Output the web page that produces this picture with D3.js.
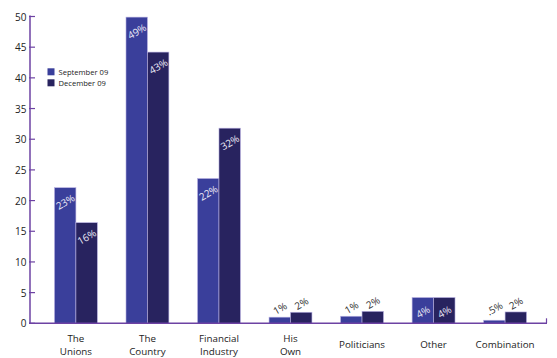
<!DOCTYPE html>
<html><head><meta charset="utf-8">
<script src="https://cdn.jsdelivr.net/npm/d3@7/dist/d3.min.js"></script>
<style>body{margin:0;background:#fff;}svg{display:block;}</style>
</head><body>
<script>
const categories = [["The","Unions"],["The","Country"],["Financial","Industry"],["His","Own"],["Politicians"],["Other"],["Combination"]];
const seriesNames = ["September 09","December 09"];
const sepValues = [22.1, 49.9, 23.6, 1.0, 1.15, 4.2, 0.5];
const decValues = [16.4, 44.2, 31.8, 1.8, 1.95, 4.2, 1.85];
const sepLabels = ["23%","49%","22%","1%","1%","4%",".5%"];
const decLabels = ["16%","43%","32%","2%","2%","4%","2%"];
const yTicks = [0,5,10,15,20,25,30,35,40,45,50];

const W=557,H=358;
const colors=["#3a3f9b","#28235f"];
const axisColor="#6d42a3";
const font="'Open Sans', sans-serif";
const svg=d3.select("body").append("svg").attr("width",W).attr("height",H);

const y=d3.scaleLinear().domain([0,50]).range([323.3,16.5]);
const x=d3.scaleBand().domain(d3.range(categories.length)).range([33,548]).paddingInner(0.4).paddingOuter(0.3);
const xs=d3.scaleBand().domain([0,1]).range([0,x.bandwidth()]);

// bars
const data=categories.map((c,i)=>({i,vals:[sepValues[i],decValues[i]],labs:[sepLabels[i],decLabels[i]]}));
const g=svg.append("g");
data.forEach(d=>{
  d.vals.forEach((v,s)=>{
    const bx=x(d.i)+xs(s), bw=xs.bandwidth();
    g.append("rect").attr("x",bx).attr("y",y(v)).attr("width",bw).attr("height",y(0)-y(v))
      .attr("fill",colors[s]).attr("stroke","#b9b2e3").attr("stroke-width",0.6);
    const inside = v>=4;
    const cx=bx+bw/2;
    const cy= inside ? y(v)+14 : y(v)-(v<0.8?12:9);
    g.append("text").attr("transform",`translate(${cx},${cy}) rotate(-30)`)
      .attr("text-anchor","middle").attr("dominant-baseline","central")
      .attr("font-family",font).attr("font-size","10px")
      .attr("fill",inside?"#eceaf7":"#333").text(d.labs[s]);
  });
});

// y axis
const ya=svg.append("g");
ya.append("line").attr("x1",30).attr("x2",30).attr("y1",y(50)-1).attr("y2",y(0)).attr("stroke",axisColor).attr("stroke-width",1.5);
yTicks.forEach(t=>{
  ya.append("line").attr("x1",29).attr("x2",35).attr("y1",y(t)).attr("y2",y(t)).attr("stroke",axisColor).attr("stroke-width",1.2);
  ya.append("text").attr("x",26.5).attr("y",y(t)).attr("text-anchor","end").attr("dominant-baseline","central")
    .attr("font-family",font).attr("font-size","10px").attr("fill","#222").text(t);
});
// x axis
svg.append("line").attr("x1",29).attr("x2",547).attr("y1",y(0)).attr("y2",y(0)).attr("stroke",axisColor).attr("stroke-width",1.5);
svg.append("line").attr("x1",546.5).attr("x2",546.5).attr("y1",y(0)).attr("y2",y(0)-5).attr("stroke",axisColor).attr("stroke-width",1.2);

// x labels
categories.forEach((c,i)=>{
  const cx=x(i)+x.bandwidth()/2;
  const t=svg.append("text").attr("text-anchor","middle").attr("font-family",font).attr("font-size","9.8px").attr("fill","#222");
  if(c.length===2){
    t.append("tspan").attr("x",cx).attr("y",342).text(c[0]);
    t.append("tspan").attr("x",cx).attr("y",354.5).text(c[1]);
  } else {
    t.append("tspan").attr("x",cx).attr("y",348).text(c[0]);
  }
});

// legend
seriesNames.forEach((n,s)=>{
  svg.append("rect").attr("x",47.5).attr("y",68.3+s*11).attr("width",7).attr("height",7).attr("fill",colors[s]);
  svg.append("text").attr("x",58.5).attr("y",71.8+s*11).attr("dominant-baseline","central")
    .attr("font-family",font).attr("font-size","7.6px").attr("fill","#222").text(n);
});
</script>
</body></html>
